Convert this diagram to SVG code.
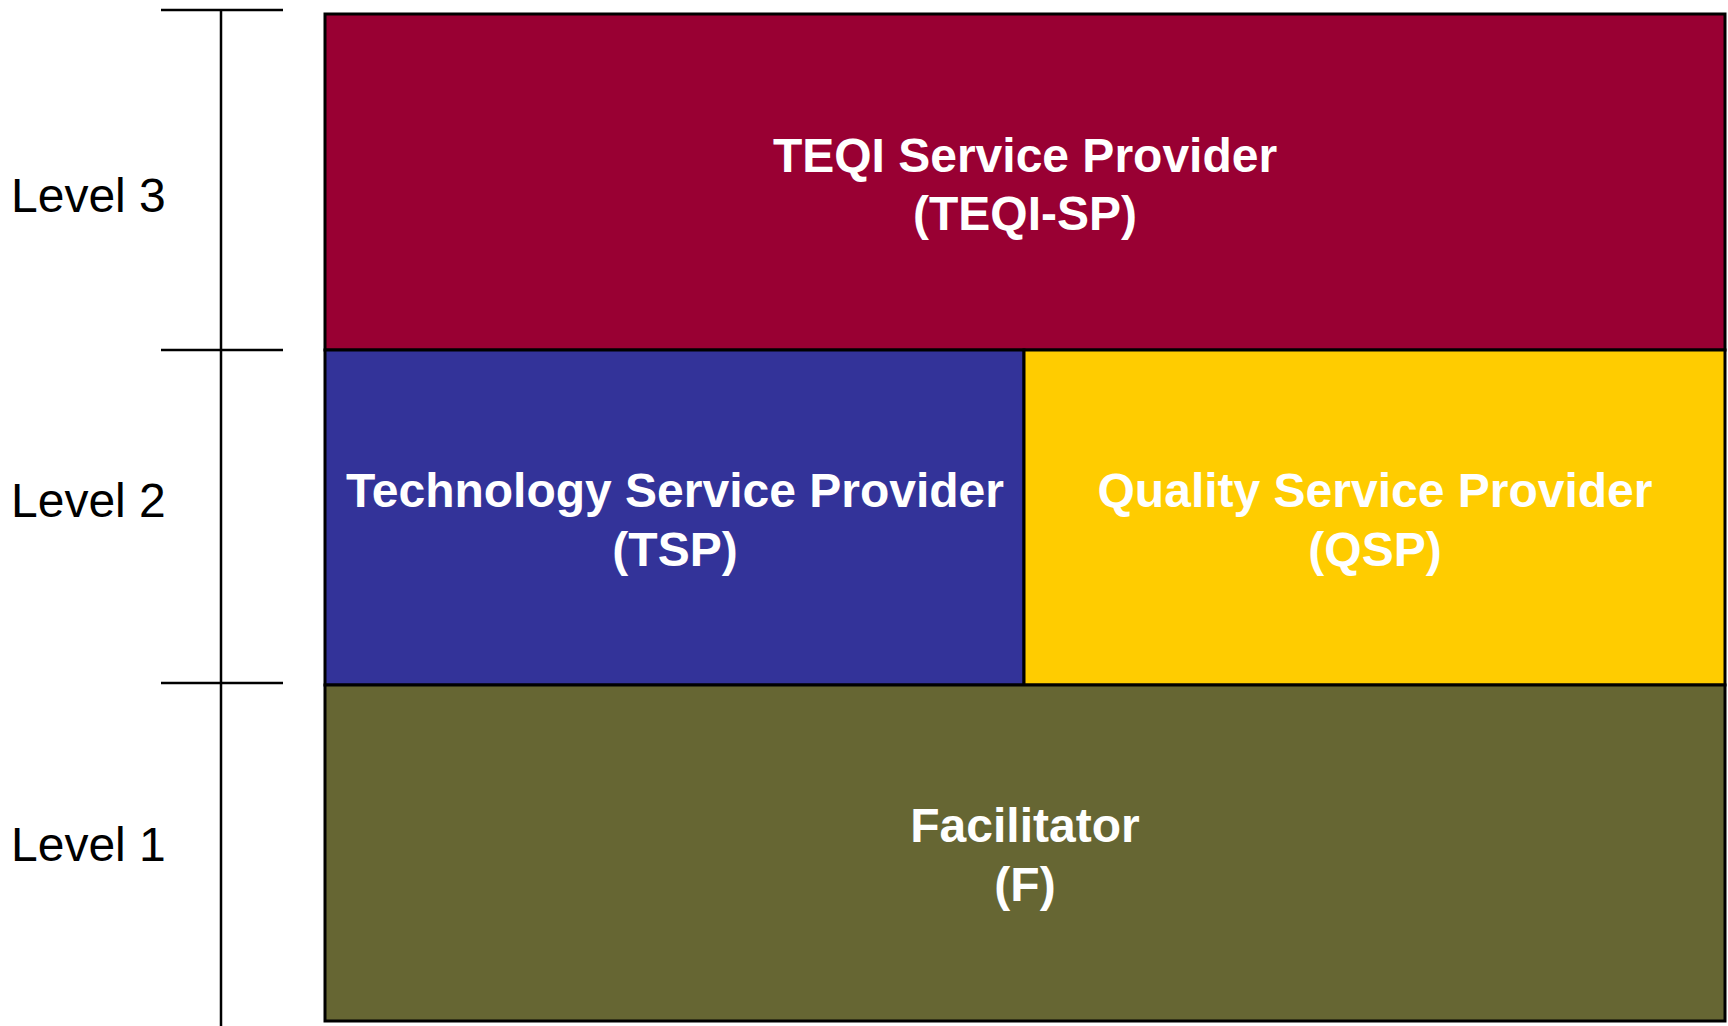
<svg xmlns="http://www.w3.org/2000/svg" width="1728" height="1026" viewBox="0 0 1728 1026">
<style>
.box{stroke:#000;stroke-width:3}
.lbl{font-family:"Liberation Sans",Arial,sans-serif;font-weight:bold;font-size:48px;fill:#fff;text-anchor:middle}
.lvl{font-family:"Liberation Sans",Arial,sans-serif;font-size:48px;fill:#000}
.ax{stroke:#000;stroke-width:2.5;fill:none}
</style>
<rect width="1728" height="1026" fill="#fff"/>
<g id="axis">
<line class="ax" x1="221" y1="10" x2="221" y2="1026"/>
<line class="ax" x1="161" y1="10" x2="283" y2="10"/>
<line class="ax" x1="161" y1="350" x2="283" y2="350"/>
<line class="ax" x1="161" y1="683" x2="283" y2="683"/>
<text class="lvl" x="11" y="212">Level 3</text>
<text class="lvl" x="11" y="517">Level 2</text>
<text class="lvl" x="11" y="861">Level 1</text>
</g>
<g id="teqi-sp">
<rect class="box" x="325" y="14" width="1400" height="336" fill="#990033"/>
<text class="lbl" x="1025" y="172">TEQI Service Provider</text>
<text class="lbl" x="1025" y="230">(TEQI-SP)</text>
</g>
<g id="tsp">
<rect class="box" x="325" y="350" width="699" height="335" fill="#333399"/>
<text class="lbl" x="675" y="507">Technology Service Provider</text>
<text class="lbl" x="675" y="566">(TSP)</text>
</g>
<g id="qsp">
<rect class="box" x="1024" y="350" width="701" height="335" fill="#FFCC00"/>
<text class="lbl" x="1375" y="507">Quality Service Provider</text>
<text class="lbl" x="1375" y="566">(QSP)</text>
</g>
<g id="facilitator">
<rect class="box" x="325" y="685" width="1400" height="336" fill="#666633"/>
<text class="lbl" x="1025" y="842">Facilitator</text>
<text class="lbl" x="1025" y="901">(F)</text>
</g>
<g id="connectors"></g>
</svg>
